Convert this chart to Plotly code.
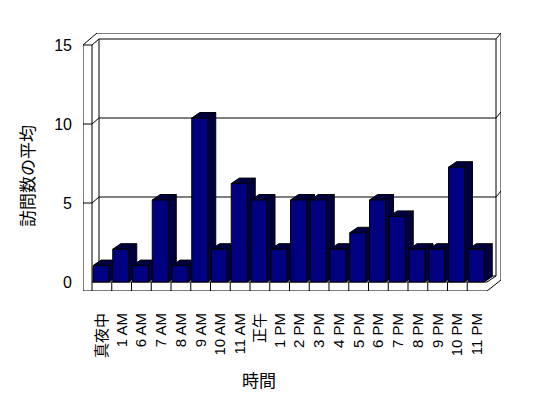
import plotly.graph_objects as go

# ---------------- data ----------------
categories = ["真夜中", "1 AM", "6 AM", "7 AM", "8 AM", "9 AM", "10 AM", "11 AM", "正午",
              "1 PM", "2 PM", "3 PM", "4 PM", "5 PM", "6 PM", "7 PM", "8 PM", "9 PM",
              "10 PM", "11 PM"]
visits = [1, 2, 1, 5, 1, 10, 2, 6, 5, 2, 5, 5, 2, 3, 5, 4, 2, 2, 7, 2]
y_ticks = [0, 5, 10, 15]
x_title = "時間"
y_title = "訪問数の平均"

# ---------------- geometry (pixels) ----------------
W_FIG, H_FIG = 548, 398
PL, PR, PT, PB = 83, 501, 33, 291      # plot area
SLOT = 19.75                           # category slot width
X0 = 92                                # left edge of first slot
BASE = 282                             # front floor top edge
BACK = 276                             # back floor edge
BAR_PX = 16.4                          # px per unit for bars
WALL_PX = 15.8                         # px per unit for wall grid / axis labels
DX, DY = 8, 5.5                        # bar depth
WALL_R_IN, WALL_R_OUT = 496, 501
FLOOR_R = X0 + SLOT * len(categories)

def xd(px):
    return (px - X0) / SLOT - 0.5

def yd(py):
    return (BASE - py) / BAR_PX

def P(px, py):
    return f"{xd(px):.4f},{yd(py):.4f}"

def line(a, b):
    return dict(type="path", xref="x", yref="y", layer="below",
                path=f"M{P(*a)} L{P(*b)}", line=dict(color="black", width=1))

NAVY = "#000080"
DARK = "#000040"

# ---------------- bars ----------------
fx, fy, sx, sy, tx, ty = [], [], [], [], [], []
bw = 16 / SLOT
ddx = DX / SLOT
ddy = DY / BAR_PX
for i, v in enumerate(visits):
    l = i - 0.5 + 1 / SLOT
    r = l + bw
    fx += [l, r, r, l, l, None]
    fy += [0, 0, v, v, 0, None]
    sx += [r, r + ddx, r + ddx, r, r, None]
    sy += [0, ddy, v + ddy, v, 0, None]
    tx += [l, r, r + ddx, l + ddx, l, None]
    ty += [v, v, v + ddy, v + ddy, v, None]

fig = go.Figure()
fig.add_trace(go.Scatter(x=sx, y=sy, mode="lines", fill="toself", fillcolor=DARK,
                         line=dict(color="black", width=1), hoverinfo="skip", showlegend=False))
fig.add_trace(go.Scatter(x=tx, y=ty, mode="lines", fill="toself", fillcolor=DARK,
                         line=dict(color="black", width=1), hoverinfo="skip", showlegend=False))
fig.add_trace(go.Scatter(x=fx, y=fy, mode="lines", fill="toself", fillcolor=NAVY,
                         line=dict(color="black", width=1), hoverinfo="skip", showlegend=False))
# invisible trace on the label axis
fig.add_trace(go.Scatter(x=[None], y=[None], yaxis="y2", showlegend=False))

# ---------------- walls / floor ----------------
front_top = BASE - WALL_PX * 15
back_top = BACK - WALL_PX * 15
shapes = []
shapes.append(dict(type="path", xref="x", yref="y", layer="below",
                   path=(f"M{P(PL, front_top)} L{P(97, PT)} L{P(WALL_R_OUT, PT)} "
                         f"L{P(WALL_R_OUT, BACK + 4)} L{P(FLOOR_R, PB)} L{P(PL, PB)} Z"),
                   fillcolor="white", line=dict(color="black", width=1)))
segs = [
    ((PL, front_top), (X0, front_top)),
    ((X0, front_top), (X0, PB)),
    ((X0, front_top), (99, back_top)),
    ((99, back_top), (WALL_R_IN, back_top)),
    ((WALL_R_IN, back_top), (WALL_R_OUT, PT)),
    ((99, back_top), (99, BACK)),
    ((WALL_R_IN, back_top), (WALL_R_IN, BACK)),
    ((99, BACK), (WALL_R_IN, BACK)),
    ((X0, BASE), (99, BACK)),
    ((X0, BASE), (FLOOR_R, BASE)),
    ((FLOOR_R, BASE), (WALL_R_IN, BACK)),
]
for k in range(1, len(categories)):
    xk = X0 + SLOT * k
    segs.append(((xk, BASE), (xk, PB)))
for v in y_ticks[1:-1]:
    f = BASE - WALL_PX * v
    b = BACK - WALL_PX * v
    segs += [((PL, f), (X0, f)), ((X0, f), (99, b)), ((99, b), (WALL_R_IN, b)),
             ((WALL_R_IN, b), (WALL_R_OUT, b - 6))]
for a, b in segs:
    shapes.append(line(a, b))

TICKFONT = dict(family="Liberation Sans, Arial, Noto Sans CJK JP", size=16, color="black")
XTICKFONT = dict(family="Liberation Sans, Arial, Noto Sans CJK JP", size=15, color="black")
CJK = dict(family="Noto Sans CJK JP", size=17, color="black")

def paper_x(px):
    return (px - PL) / (PR - PL)

def paper_y(py):
    return (PB - py) / (PB - PT)

fig.update_layout(
    width=W_FIG, height=H_FIG,
    margin=dict(l=PL, r=W_FIG - PR, t=PT, b=H_FIG - PB, pad=0),
    paper_bgcolor="white", plot_bgcolor="white",
    shapes=shapes,
    xaxis=dict(range=[xd(PL), xd(PR)], showgrid=False, zeroline=False, showline=False,
               tickmode="array", tickvals=list(range(len(categories))), ticktext=categories,
               tickangle=-90, ticks="", tickfont=XTICKFONT, ticklabelstandoff=18,
               fixedrange=True),
    yaxis=dict(range=[yd(PB), yd(PT)], showgrid=False, zeroline=False, showline=False,
               showticklabels=False, ticks="", fixedrange=True),
    yaxis2=dict(range=[-(PB - BASE) / WALL_PX, (BASE - PT) / WALL_PX], overlaying="y",
                side="left", anchor="x", showgrid=False, zeroline=False, showline=False,
                tickmode="array", tickvals=y_ticks, ticks="", tickfont=TICKFONT,
                ticklabelstandoff=10, fixedrange=True),
    annotations=[
        dict(text=y_title, xref="paper", yref="paper", x=paper_x(26), y=paper_y(176),
             textangle=-90, showarrow=False, font=CJK, xanchor="center", yanchor="middle"),
        dict(text=x_title, xref="paper", yref="paper", x=paper_x(259), y=paper_y(379),
             showarrow=False, font=CJK, xanchor="center", yanchor="middle"),
    ],
)

fig.write_html("out.html")
